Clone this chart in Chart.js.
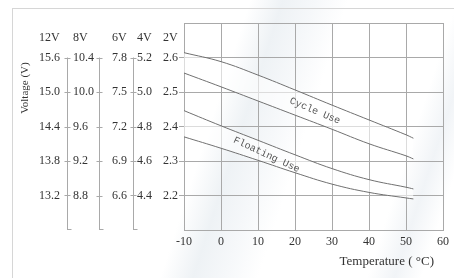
<!DOCTYPE html>
<html>
<head>
<meta charset="utf-8">
<script src="https://cdn.jsdelivr.net/npm/chart.js@4.4.1/dist/chart.umd.min.js"></script>
<style>
body { margin: 0; background: #fff; }
#wrap {
    position: relative; width: 454px; height: 278px; overflow: hidden;
    background: linear-gradient(108deg, #fff 0%, #fff 46%, #eef2f5 52%, #f6f8fa 58%, #fff 64%, #fff 84%, #f1f4f7 89%, #fff 94%);
}
#frame { position: absolute; left: 12px; top: 8px; width: 500px; height: 300px; border: 1px solid #d6d6d6; }
canvas { position: absolute; left: 0; top: 0; }
</style>
</head>
<body>
<div id="wrap">
    <div id="frame"></div>
    <canvas id="voltChart" width="454" height="278"></canvas>
</div>
<script>
// temperature (deg C) and 2V-cell voltage
var temps = [-10, 0, 10, 20, 30, 40, 50, 52];
var cycleHigh = [2.614, 2.588, 2.549, 2.506, 2.462, 2.419, 2.376, 2.366];
var cycleLow = [2.555, 2.515, 2.474, 2.433, 2.392, 2.350, 2.315, 2.306];
var floatHigh = [2.446, 2.402, 2.360, 2.318, 2.278, 2.246, 2.224, 2.219];
var floatLow = [2.370, 2.337, 2.302, 2.266, 2.233, 2.209, 2.193, 2.190];

var xTicks = [-10, 0, 10, 20, 30, 40, 50, 60];
var ticks2V = [2.6, 2.5, 2.4, 2.3, 2.2];
var ticks4V = [5.2, 5.0, 4.8, 4.6, 4.4];
var ticks6V = [7.8, 7.5, 7.2, 6.9, 6.6];
var ticks8V = [10.4, 10.0, 9.6, 9.2, 8.8];
var ticks12V = [15.6, 15.0, 14.4, 13.8, 13.2];
var cellHeaders = ['12V', '8V', '6V', '4V', '2V'];

var bandNames = ['Cycle Use', 'Floating Use'];
var bandSpots = [[25.4, 2.445], [12.3, 2.318]];

var gridColor = '#a9a9a9';
var lineColor = '#707070';
var textColor = '#333';
var serif = '"Liberation Serif", "Times New Roman", serif';

function pts(ys) {
    return ys.map(function(y, i) { return {x: temps[i], y: y}; });
}

function has(list, v) {
    return list.some(function(t) { return Math.abs(t - v) < 1e-6; });
}

function cellAxis(list, k, w, weight) {
    return {
        position: 'left',
        weight: weight,
        min: 2.1 * k,
        max: 2.7 * k,
        border: {display: false},
        grid: {display: false},
        afterBuildTicks: function(scale) {
            scale.ticks = list.map(function(v) { return {value: v}; });
        },
        afterFit: function(scale) { scale.width = w; },
        ticks: {
            crossAlign: 'far',
            color: textColor,
            font: {family: serif, size: 12},
            callback: function(v) { return has(list, v) ? v.toFixed(1) : ''; }
        }
    };
}

var y2 = cellAxis(ticks2V, 1, 21, 0);
y2.grid = {
    display: true,
    color: gridColor,
    tickLength: 5,
    tickColor: function(c) { return c.tick && has(ticks2V, c.tick.value) ? gridColor : 'rgba(0,0,0,0)'; }
};
y2.border = {display: true, color: gridColor};
y2.afterBuildTicks = function(scale) {
    scale.ticks = [2.7].concat(ticks2V, [2.1]).map(function(v) { return {value: v}; });
};

var extras = {
    id: 'extras',
    afterDraw: function(chart) {
        var ctx = chart.ctx, s = chart.scales, area = chart.chartArea;
        ctx.save();
        ctx.fillStyle = textColor;
        ctx.font = '12px ' + serif;
        ctx.textBaseline = 'middle';
        ctx.textAlign = 'left';
        ['y12', 'y8', 'y6', 'y4', 'y2'].forEach(function(id, i) {
            ctx.fillText(cellHeaders[i], s[id].left, area.top + 15);
        });

        // divider lines between the voltage columns
        var top = s.y2.getPixelForValue(ticks2V[0]);
        ctx.strokeStyle = gridColor;
        ctx.lineWidth = 1;
        [['y8', -6, ticks8V], ['y6', -13, ticks6V], ['y4', -4, ticks4V]].forEach(function(d) {
            var sc = s[d[0]];
            var x = Math.round(sc.left + d[1]) + 0.5;
            ctx.beginPath();
            ctx.moveTo(x, top);
            ctx.lineTo(x, area.bottom);
            d[2].forEach(function(v) {
                var y = Math.round(sc.getPixelForValue(v)) + 0.5;
                ctx.moveTo(x - 3, y);
                ctx.lineTo(x + 3, y);
            });
            ctx.moveTo(x, area.bottom - 0.5);
            ctx.lineTo(x + 4, area.bottom - 0.5);
            ctx.stroke();
        });

        ctx.save();
        ctx.translate(s.y12.left - 14, area.top + 65);
        ctx.rotate(-Math.PI / 2);
        ctx.textAlign = 'center';
        ctx.font = '11px ' + serif;
        ctx.fillText('Voltage (V)', 0, 0);
        ctx.restore();

        ctx.textAlign = 'right';
        ctx.font = '13px ' + serif;
        ctx.fillText('Temperature ( °C)', area.right - 9, area.bottom + 32);

        ctx.fillStyle = '#555';
        ctx.font = '10px "Liberation Mono", monospace';
        ctx.textAlign = 'center';
        bandNames.forEach(function(name, i) {
            var px = s.x.getPixelForValue(bandSpots[i][0]);
            var py = s.y2.getPixelForValue(bandSpots[i][1]);
            ctx.save();
            ctx.translate(px, py);
            ctx.rotate((i === 0 ? 23 : 25) * Math.PI / 180);
            ctx.fillText(name, 0, 0);
            ctx.restore();
        });
        ctx.restore();
    }
};

var lineStyle = {
    borderColor: lineColor,
    borderWidth: 1,
    pointRadius: 0,
    tension: 0.4,
    yAxisID: 'y2'
};

new Chart(document.getElementById('voltChart'), {
    type: 'line',
    data: {
        datasets: [
            Object.assign({label: 'Cycle Use high', data: pts(cycleHigh), fill: false}, lineStyle),
            Object.assign({label: 'Cycle Use low', data: pts(cycleLow), fill: '-1', backgroundColor: 'rgba(255,255,255,0.6)'}, lineStyle),
            Object.assign({label: 'Floating Use high', data: pts(floatHigh), fill: false}, lineStyle),
            Object.assign({label: 'Floating Use low', data: pts(floatLow), fill: '-1', backgroundColor: 'rgba(255,255,255,0.6)'}, lineStyle)
        ]
    },
    options: {
        responsive: false,
        animation: false,
        layout: {padding: {left: 39, top: 23, right: 7, bottom: 0}},
        plugins: {
            legend: {display: false},
            tooltip: {enabled: false}
        },
        scales: {
            x: {
                type: 'linear',
                min: -10,
                max: 60,
                afterBuildTicks: function(scale) {
                    scale.ticks = xTicks.map(function(v) { return {value: v}; });
                },
                afterFit: function(scale) { scale.height = 48; },
                grid: {color: gridColor, drawTicks: false},
                border: {color: gridColor},
                ticks: {padding: 5, color: textColor, font: {family: serif, size: 12}}
            },
            y12: cellAxis(ticks12V, 6, 34, 4),
            y8: cellAxis(ticks8V, 4, 39, 3),
            y6: cellAxis(ticks6V, 3, 25, 2),
            y4: cellAxis(ticks4V, 2, 26, 1),
            y2: y2
        }
    },
    plugins: [extras]
});
</script>
</body>
</html>
